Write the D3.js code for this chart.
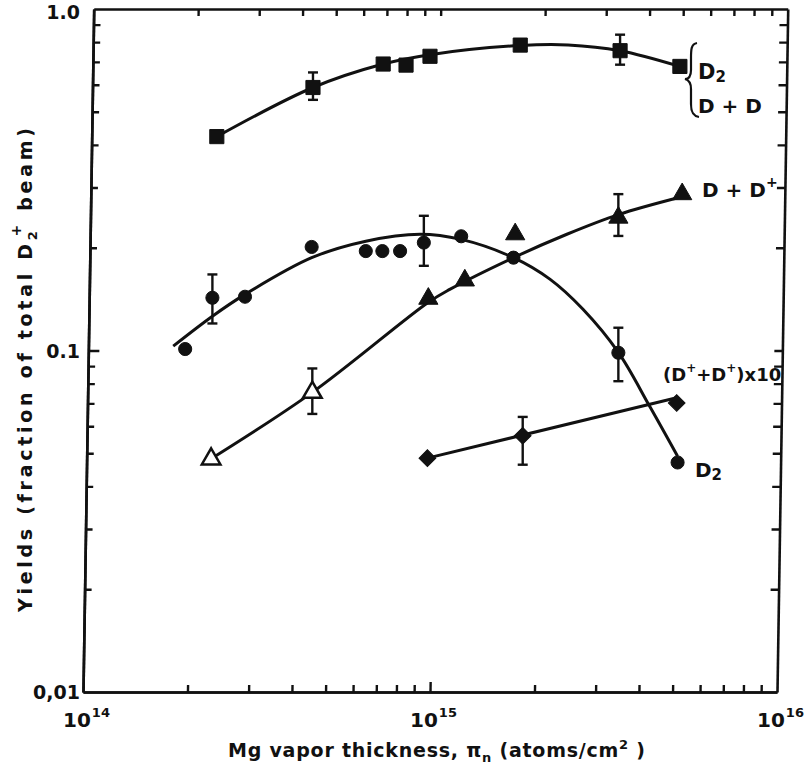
<!DOCTYPE html>
<html>
<meta charset="utf-8">
<head>
<title>Yields vs Mg vapor thickness</title>
<script src="https://d3js.org/d3.v7.min.js"></script>
<style>
body { margin: 0; background: #fff; }
text { font-family: "DejaVu Sans", sans-serif; font-weight: bold; fill: #111; }
</style>
</head>
<body>
<script>

// ---- data ----
// D2 {D + D  (squares)
var sqX = [2.43e14, 4.6e14, 7.33e14, 8.53e14, 1.0e15, 1.82e15, 3.53e15, 5.25e15];
var sqY = [0.423, 0.589, 0.69, 0.685, 0.727, 0.784, 0.755, 0.679];
var sqErr = [[4.6e14, 0.542, 0.652], [3.53e15, 0.687, 0.841]];
var sqFitX = [2.43e14, 4.6e14, 7.33e14, 1.0e15, 1.82e15, 2.5e15, 3.53e15, 5.25e15];
var sqFitY = [0.423, 0.589, 0.69, 0.735, 0.782, 0.785, 0.755, 0.679];

// D2 (circles)
var ciX = [1.97e14, 2.36e14, 2.93e14, 4.56e14, 6.53e14, 7.29e14, 8.2e14, 9.6e14, 1.23e15, 1.74e15, 3.49e15, 5.17e15];
var ciY = [0.101, 0.1427, 0.1437, 0.201, 0.1955, 0.1955, 0.1955, 0.207, 0.216, 0.187, 0.0985, 0.047];
var ciErr = [[2.36e14, 0.12, 0.167], [9.6e14, 0.177, 0.248], [3.49e15, 0.0813, 0.1166]];
var ciFitX = [1.82e14, 2.36e14, 2.93e14, 4.56e14, 6.53e14, 9.36e14, 1.23e15, 1.74e15, 2.22e15, 2.76e15, 3.49e15, 4.3e15, 5.17e15];
var ciFitY = [0.103, 0.126, 0.146, 0.187, 0.209, 0.219, 0.2115, 0.187, 0.1615, 0.132, 0.0987, 0.0685, 0.049];

// D + D+  (triangles; first two drawn open)
var trX = [9.89e14, 1.26e15, 1.76e15, 3.49e15, 5.33e15];
var trY = [0.1418, 0.1604, 0.219, 0.245, 0.287];
var trOpenX = [2.34e14, 4.58e14];
var trOpenY = [0.0481, 0.0754];
var trErr = [[4.58e14, 0.0652, 0.0886], [3.49e15, 0.2165, 0.287]];
var trFitX = [2.28e14, 4.58e14, 9.85e14, 1.14e15, 1.74e15, 2.48e15, 3.49e15, 5.25e15];
var trFitY = [0.0474, 0.0754, 0.138, 0.151, 0.187, 0.219, 0.25, 0.281];

// (D+ + D+) x 10  (diamonds)
var diX = [9.83e14, 1.85e15, 5.14e15];
var diY = [0.0484, 0.0563, 0.0702];
var diErr = [[1.85e15, 0.0463, 0.0639]];
var diFitX = [9.83e14, 5.14e15];
var diFitY = [0.0484, 0.0727];

// axis ticks
var xMajor = [1e14, 1e15, 1e16];
var xMajorExp = ["14", "15", "16"];
var yMajor = [0.01, 0.1, 1];
var yMajorLabels = ["0,01", "0.1", "1.0"];
var minorMult = [2, 3, 4, 5, 6, 7, 8, 9];

// ---- layout ----
var width = 809;
var height = 774;

var svg = d3.select("body")
    .append("svg")
    .attr("width", width)
    .attr("height", height);

var x = d3.scaleLog().domain([1e14, 1e16]).range([83, 777]);
var y = d3.scaleLog().domain([0.01, 1]).range([692, 9]);

var xMinor = [], yMinor = [];
[1e14, 1e15].forEach(function(d) { minorMult.forEach(function(m) { xMinor.push(d * m); }); });
[0.01, 0.1].forEach(function(d) { minorMult.forEach(function(m) { yMinor.push(d * m); }); });

// the hand drawn frame leans a little, so the axes get a slight skew
var ax = svg.append("g")
    .attr("transform", "translate(0,692) skewX(-0.9) translate(0,-692)");

function styleAxis(g) {
    g.selectAll("path.domain").attr("stroke", "#111").attr("stroke-width", 2.6);
    g.selectAll(".tick line").attr("stroke", "#111").attr("stroke-width", 2.4);
    g.selectAll(".tick text").remove();
}

ax.append("g").attr("transform", "translate(0,692)")
    .call(d3.axisBottom(x).tickValues(xMinor).tickSize(-7).tickSizeOuter(0)).call(styleAxis);
ax.append("g").attr("transform", "translate(0,692)")
    .call(d3.axisBottom(x).tickValues([1e15]).tickSize(-10).tickSizeOuter(0)).call(styleAxis);
ax.append("g").attr("transform", "translate(0,9)")
    .call(d3.axisTop(x).tickValues(xMinor.concat([1e15])).tickSize(-7).tickSizeOuter(0)).call(styleAxis);
ax.append("g").attr("transform", "translate(83,0)")
    .call(d3.axisLeft(y).tickValues(yMinor).tickSize(-7).tickSizeOuter(0)).call(styleAxis);
ax.append("g").attr("transform", "translate(83,0)")
    .call(d3.axisLeft(y).tickValues([0.1]).tickSize(-11).tickSizeOuter(0)).call(styleAxis);
ax.append("g").attr("transform", "translate(777,0)")
    .call(d3.axisRight(y).tickValues(yMinor.concat([0.1])).tickSize(-8).tickSizeOuter(0)).call(styleAxis);

// tick labels
var xl = svg.append("g").selectAll("text")
    .data(xMajor)
    .enter()
    .append("text")
    .attr("x", function(d) { return x(d) - 20; })
    .attr("y", 727)
    .attr("font-size", 20);
xl.append("tspan").text("10");
xl.append("tspan").attr("dx", 1).attr("dy", -10).attr("font-size", 13).text(function(d, i) { return xMajorExp[i]; });

svg.append("g").selectAll("text")
    .data(yMajor)
    .enter()
    .append("text")
    .attr("x", 80)
    .attr("y", function(d) { return y(d) + 7 + (d === 1 ? 3 : 0); })
    .attr("text-anchor", "end")
    .attr("font-size", 19)
    .text(function(d, i) { return yMajorLabels[i]; });

// axis titles
var xt = svg.append("text")
    .attr("x", 228).attr("y", 757)
    .attr("font-size", 19)
    .attr("textLength", 417)
    .attr("lengthAdjust", "spacing");
xt.append("tspan").text("Mg  vapor  thickness, \u03C0");
xt.append("tspan").attr("dy", 5).attr("font-size", 13).text("n");
xt.append("tspan").attr("dy", -5).text(" (atoms/cm");
xt.append("tspan").attr("dy", -8).attr("font-size", 13).text("2");
xt.append("tspan").attr("dy", 8).text(" )");

var yt = svg.append("text")
    .attr("transform", "translate(32,612) rotate(-90)")
    .attr("font-size", 19)
    .attr("textLength", 484)
    .attr("lengthAdjust", "spacing");
yt.append("tspan").text("Yields  (fraction of total  D");
yt.append("tspan").attr("dy", 5).attr("font-size", 13).text("2");
yt.append("tspan").attr("dx", -9).attr("dy", -16).attr("font-size", 14).text("+");
yt.append("tspan").attr("dy", 11).text("  beam)");

// ---- curves ----
var line = d3.line()
    .x(function(d) { return x(d[0]); })
    .y(function(d) { return y(d[1]); })
    .curve(d3.curveCatmullRom.alpha(0.5));

var curves = [[sqFitX, sqFitY], [ciFitX, ciFitY], [trFitX, trFitY], [diFitX, diFitY]];
svg.append("g").selectAll("path")
    .data(curves)
    .enter()
    .append("path")
    .attr("d", function(c) { return line(d3.zip(c[0], c[1])); })
    .attr("fill", "none")
    .attr("stroke", "#111")
    .attr("stroke-width", 3);

// ---- error bars ----
function errorBars(data) {
    var g = svg.append("g").attr("stroke", "#111").attr("stroke-width", 2.4);
    g.selectAll("line.v").data(data).enter().append("line")
        .attr("x1", function(d) { return x(d[0]); })
        .attr("x2", function(d) { return x(d[0]); })
        .attr("y1", function(d) { return y(d[1]); })
        .attr("y2", function(d) { return y(d[2]); });
    [1, 2].forEach(function(k) {
        g.selectAll("line.c" + k).data(data).enter().append("line")
            .attr("x1", function(d) { return x(d[0]) - 5; })
            .attr("x2", function(d) { return x(d[0]) + 5; })
            .attr("y1", function(d) { return y(d[k]); })
            .attr("y2", function(d) { return y(d[k]); });
    });
}
errorBars(sqErr);
errorBars(ciErr);
errorBars(trErr);
errorBars(diErr);

// ---- markers ----
function markers(xs, ys, type, size, fill, rot) {
    svg.append("g").selectAll("path")
        .data(d3.zip(xs, ys))
        .enter()
        .append("path")
        .attr("d", d3.symbol().type(type).size(size))
        .attr("transform", function(d) {
            return "translate(" + x(d[0]) + "," + y(d[1]) + ")" + (rot ? " rotate(" + rot + ")" : "");
        })
        .attr("fill", fill)
        .attr("stroke", "#111")
        .attr("stroke-width", fill === "#fff" ? 2.5 : 1);
}
markers(sqX, sqY, d3.symbolSquare, 200, "#111", 0);
markers(ciX, ciY, d3.symbolCircle, 135, "#111", 0);
markers(trX, trY, d3.symbolTriangle, 160, "#111", 0);
markers(trOpenX, trOpenY, d3.symbolTriangle, 150, "#fff", 0);
markers(diX, diY, d3.symbolSquare, 140, "#111", 45);

// ---- curve labels ----
svg.append("path")
    .attr("d", "M697,43 C691,44 691,50 691,58 L691,70 C691,76 689,79 685,79 C689,80 691,83 691,89 L691,104 C691,112 693,116 699,117")
    .attr("fill", "none")
    .attr("stroke", "#111")
    .attr("stroke-width", 2.2);

var lab1 = svg.append("text").attr("x", 698).attr("y", 79).attr("font-size", 21);
lab1.append("tspan").text("D");
lab1.append("tspan").attr("dy", 3).attr("font-size", 15).text("2");
svg.append("text").attr("x", 698).attr("y", 113).attr("font-size", 20).text("D + D");

var lab2 = svg.append("text").attr("x", 702).attr("y", 197).attr("font-size", 20);
lab2.append("tspan").text("D + D");
lab2.append("tspan").attr("dy", -10).attr("font-size", 14).text("+");

var lab3 = svg.append("text").attr("x", 663).attr("y", 381).attr("font-size", 18);
lab3.append("tspan").text("(D");
lab3.append("tspan").attr("dy", -9).attr("font-size", 12).text("+");
lab3.append("tspan").attr("dy", 9).text("+D");
lab3.append("tspan").attr("dy", -9).attr("font-size", 12).text("+");
lab3.append("tspan").attr("dy", 9).text(")x10");

var lab4 = svg.append("text").attr("x", 695).attr("y", 477).attr("font-size", 20);
lab4.append("tspan").text("D");
lab4.append("tspan").attr("dy", 3).attr("font-size", 15).text("2");

</script>
</body>
</html>
